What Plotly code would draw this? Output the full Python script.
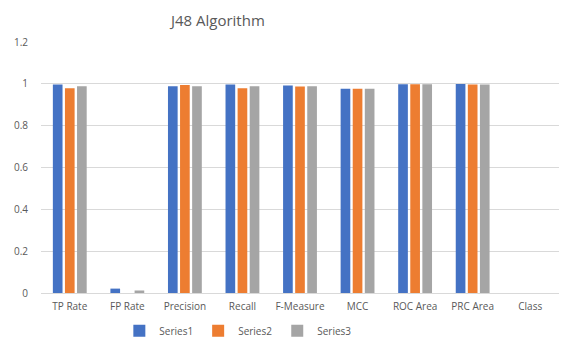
import plotly.graph_objects as go

categories = ["TP Rate", "FP Rate", "Precision", "Recall", "F-Measure", "MCC", "ROC Area", "PRC Area", "Class"]
series1 = [0.997, 0.021, 0.988, 0.997, 0.992, 0.976, 0.998, 0.999, None]
series2 = [0.979, 0.0, 0.995, 0.979, 0.987, 0.976, 0.998, 0.997, None]
series3 = [0.988, 0.012, 0.988, 0.988, 0.988, 0.976, 0.998, 0.997, None]
names = ["Series1", "Series2", "Series3"]
colors = ["#4472C4", "#ED7D31", "#A5A5A5"]

fig = go.Figure()
for n, vals, c in zip(names, [series1, series2, series3], colors):
    fig.add_trace(go.Bar(x=categories, y=vals, name=n, marker_color=c, marker_line_width=0))

fig.update_layout(
    width=563, height=338,
    paper_bgcolor="white", plot_bgcolor="white",
    font=dict(family="Open Sans, Liberation Sans, sans-serif", color="#595959", size=10),
    title=dict(text="J48 Algorithm", x=0.387, xanchor="center", y=0.94, yanchor="middle",
               font=dict(size=15, color="#595959")),
    margin=dict(l=41, r=4, t=42, b=45, autoexpand=False),
    barmode="group", bargap=0.37, bargroupgap=0.2,
    legend=dict(orientation="h", x=0.38, xanchor="center", y=-0.15, yanchor="middle",
                font=dict(size=10), itemwidth=30, traceorder="normal", tracegroupgap=0),
    xaxis=dict(showline=True, linecolor="#D9D9D9", linewidth=1, ticks="", tickfont=dict(size=10),
               automargin=False, ticklabelstandoff=4),
    yaxis=dict(range=[0, 1.2], showgrid=True, gridcolor="#D9D9D9", zeroline=False,
               tickfont=dict(size=10), automargin=False, ticklabelstandoff=12,
               tickvals=[0, 0.2, 0.4, 0.6, 0.8, 1.0, 1.2], ticktext=["0", "0.2", "0.4", "0.6", "0.8", "1", "1.2"]),
)
fig.write_html("out.html", config={"displayModeBar": False},
               post_script="document.body.style.margin='0';document.body.style.overflow='hidden';")
